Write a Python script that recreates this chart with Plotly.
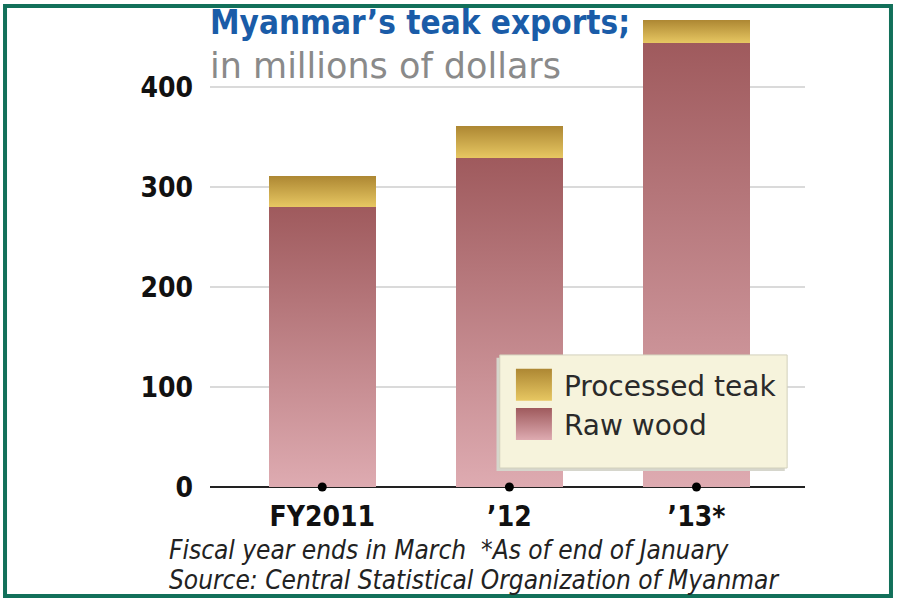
import plotly.graph_objects as go

categories = ["FY2011", "’12", "’13*"]
raw_wood = [280, 329, 444]
processed_teak = [31, 32, 23]
y_ticks = [0, 100, 200, 300, 400]

COND = "DejaVu Sans Condensed, Liberation Sans Narrow, Arial Narrow, sans-serif"
WIDE = "DejaVu Sans, Verdana, sans-serif"

fig = go.Figure()
fig.add_trace(go.Bar(
    x=categories, y=raw_wood, name="Raw wood", legendrank=2,
    marker=dict(color="#bf7f84", line=dict(width=0)), width=0.57,
))
fig.add_trace(go.Bar(
    x=categories, y=processed_teak, name="Processed teak", legendrank=1,
    marker=dict(color="#cfa84a", line=dict(width=0)), width=0.57,
))
fig.add_trace(go.Scatter(
    x=categories, y=[0] * len(categories), mode="markers",
    marker=dict(color="black", size=9), showlegend=False,
    cliponaxis=False, hoverinfo="skip",
))

fig.update_layout(
    width=899, height=600,
    barmode="stack",
    plot_bgcolor="white", paper_bgcolor="white",
    margin=dict(l=210, r=94, t=17, b=113),
    showlegend=True,
    legend=dict(
        x=0.494, y=0.2702, xanchor="left", yanchor="top",
        bgcolor="rgba(0,0,0,0)", borderwidth=0,
        font=dict(family=WIDE, size=28, color="#2a2a2a"),
        itemwidth=50, traceorder="normal",
    ),
    xaxis=dict(
        range=[-0.6, 2.58], showgrid=False, zeroline=False, showline=False,
        ticks="", tickfont=dict(family=COND, size=28, color="#111", weight="bold"),
        ticklabelstandoff=10,
    ),
    yaxis=dict(
        range=[0, 470], tickvals=y_ticks, showgrid=True,
        gridcolor="#dadada", gridwidth=2,
        zeroline=True, zerolinecolor="#222", zerolinewidth=2,
        showline=False, ticks="",
        tickfont=dict(family=COND, size=28, color="#111", weight="bold"),
        ticklabelstandoff=16,
    ),
    font=dict(family=COND),
    annotations=[
        dict(text="<b>Myanmar’s teak exports;</b>", xref="paper", yref="paper",
             x=-0.004, y=0.9877, xanchor="left", yanchor="middle", showarrow=False,
             font=dict(family=COND, size=33, color="#1a5ca8")),
        dict(text="in millions of dollars", xref="paper", yref="paper",
             x=-0.004, y=0.895, xanchor="left", yanchor="middle", showarrow=False,
             font=dict(family=WIDE, size=35, color="#8a8a8a")),
        dict(text="<i>Fiscal year ends in March  *As of end of January</i>",
             xref="paper", yref="paper", x=-0.072, y=-0.134,
             xanchor="left", yanchor="middle", showarrow=False,
             font=dict(family=COND, size=26, color="#222")),
        dict(text="<i>Source: Central Statistical Organization of Myanmar</i>",
             xref="paper", yref="paper", x=-0.072, y=-0.198,
             xanchor="left", yanchor="middle", showarrow=False,
             font=dict(family=COND, size=26, color="#222")),
    ],
    shapes=[
        # legend shadow
        dict(type="rect", xref="paper", yref="paper",
             x0=0.4815, x1=0.966, y0=0.034, y1=0.275,
             line=dict(width=0), fillcolor="#d6d6cc", layer="above"),
        # legend box
        dict(type="rect", xref="paper", yref="paper",
             x0=0.487, x1=0.970, y0=0.0404, y1=0.281,
             line=dict(color="#d2d0bc", width=1), fillcolor="#f6f3dc",
             layer="above"),
        # outer frame
        dict(type="rect", xref="paper", yref="paper",
             x0=-0.3445, x1=1.1445, y0=-0.2319, y1=1.0234,
             line=dict(color="#12705a", width=4), fillcolor="rgba(0,0,0,0)",
             layer="above"),
    ],
)

post = """
document.body.style.margin = '0';
var gd = document.getElementById('{plot_id}');
function applyGrad(){
  var ns = 'http://www.w3.org/2000/svg';
  var svg = gd.querySelector('svg.main-svg');
  var defs = svg.querySelector('defs');
  function mk(id, c1, c2){
    if (document.getElementById(id)) return;
    var g = document.createElementNS(ns, 'linearGradient');
    g.setAttribute('id', id);
    g.setAttribute('x1', '0'); g.setAttribute('y1', '0');
    g.setAttribute('x2', '0'); g.setAttribute('y2', '1');
    var s1 = document.createElementNS(ns, 'stop');
    s1.setAttribute('offset', '0'); s1.setAttribute('stop-color', c1);
    var s2 = document.createElementNS(ns, 'stop');
    s2.setAttribute('offset', '1'); s2.setAttribute('stop-color', c2);
    g.appendChild(s1); g.appendChild(s2); defs.appendChild(g);
  }
  mk('gRaw', '#9f5a5d', '#deabb1');
  mk('gProc', '#ad8733', '#e7c762');
  var tr = gd.querySelectorAll('.barlayer .trace');
  tr.forEach(function(t, i){
    var id = i === 0 ? 'gRaw' : 'gProc';
    t.querySelectorAll('path').forEach(function(p){ p.style.fill = 'url(#' + id + ')'; });
  });
  gd.querySelectorAll('.legend .traces').forEach(function(t){
    var txt = t.querySelector('.legendtext').textContent;
    var id = txt.indexOf('Raw') >= 0 ? 'gRaw' : 'gProc';
    t.querySelectorAll('.legendpoints path').forEach(function(p){
      p.setAttribute('d', 'M18,16H-18V-16H18Z');
      p.style.fill = 'url(#' + id + ')';
      p.style.stroke = 'none';
    });
  });
}
applyGrad();
"""

fig.write_html("out.html", post_script=post, config={"displayModeBar": False})
